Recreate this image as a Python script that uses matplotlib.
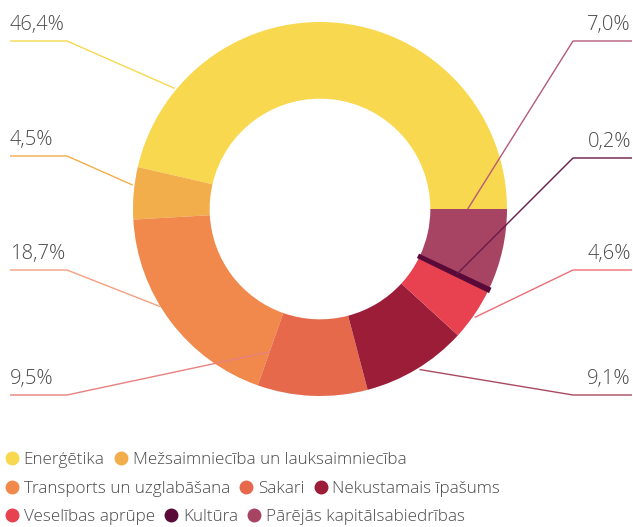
import matplotlib
matplotlib.use("Agg")
import matplotlib.pyplot as plt
from matplotlib.lines import Line2D
import numpy as np

categories = ["Enerģētika", "Mežsaimniecība un lauksaimniecība", "Transports un uzglabāšana",
              "Sakari", "Nekustamais īpašums", "Veselības aprūpe", "Kultūra",
              "Pārējās kapitālsabiedrības"]
values = [46.4, 4.5, 18.7, 9.5, 9.1, 4.6, 0.2, 7.0]
labels = ["46,4%", "4,5%", "18,7%", "9,5%", "9,1%", "4,6%", "0,2%", "7,0%"]
colors = ["#F8D84F", "#F2AE4B", "#F0894B", "#E6694C", "#9B1D38", "#E8414F", "#5A0A38", "#A84463"]
line_colors = ["#F8D84F", "#F2AE4B", "#F4A07E", "#E98080", "#A84A5E", "#EE6E78", "#6A1A48", "#B45A78"]

# layout (pixels)
W, H = 633, 527
cx, cy, R = 320, 318, 187
ring = 0.41
# label layout: side, line y (from top), anchor fraction within wedge, radius fraction
label_side = ["L", "L", "L", "L", "R", "R", "R", "R"]
label_liney = [41, 156, 270, 395, 395, 270, 158, 41]
anchor_frac = [0.84, 0.35, 0.42, 0.0, 0.52, 0.45, 0.5, 1.0]
anchor_r = [1.01, 1.01, 1.0, 0.81, 1.01, 1.01, 0.81, 0.79]

fig = plt.figure(figsize=(W / 100, H / 100), dpi=100)
ax = fig.add_axes([0, 0, 1, 1])

wedges, _ = ax.pie(values, colors=colors, startangle=0, counterclock=True,
                   center=(cx, cy), radius=R, frame=True,
                   wedgeprops=dict(width=R * ring, linewidth=0))
wedges[6].set_edgecolor(colors[6])
wedges[6].set_linewidth(2.5)
wedges[6].set_zorder(3)
ax.set_xlim(0, W)
ax.set_ylim(0, H)
ax.set_aspect("equal")
ax.axis("off")

font = "Open Sans"
tcol = "#4a4a4a"
for i, w in enumerate(wedges):
    t1, t2 = w.theta1, w.theta2
    ang = np.deg2rad(t1 + (t2 - t1) * anchor_frac[i])
    ax_ = cx + R * anchor_r[i] * np.cos(ang)
    ay_ = cy + R * anchor_r[i] * np.sin(ang)
    ly = H - label_liney[i]
    if label_side[i] == "L":
        xs = [10, 67, ax_]
        tx, ha = 10, "left"
    else:
        xs = [632, 573, ax_]
        tx, ha = 631, "right"
    ax.plot(xs, [ly, ly, ay_], color=line_colors[i], lw=1.0, solid_capstyle="butt", zorder=4)
    ax.text(tx, ly + 6, labels[i], ha=ha, va="bottom", fontsize=14.5,
            color=tcol, family=font, fontweight="light")

# legend rows
rows = [[0, 1], [2, 3, 4], [5, 6, 7]]
row_y = [460, 489, 517]
for r, idxs in enumerate(rows):
    handles = [Line2D([], [], marker="o", ls="", color=colors[i], markersize=9) for i in idxs]
    leg = fig.legend(handles, [categories[i] for i in idxs], ncol=len(idxs),
                     loc="center left", bbox_to_anchor=(3 / W, 1 - row_y[r] / H),
                     frameon=False, handletextpad=0.2, columnspacing=0.45,
                     handlelength=1.0, borderpad=0.0, borderaxespad=0.0,
                     prop=dict(family=font, size=12.3, weight="light"))
    for t in leg.get_texts():
        t.set_color(tcol)

fig.savefig("out.png", dpi=100)
